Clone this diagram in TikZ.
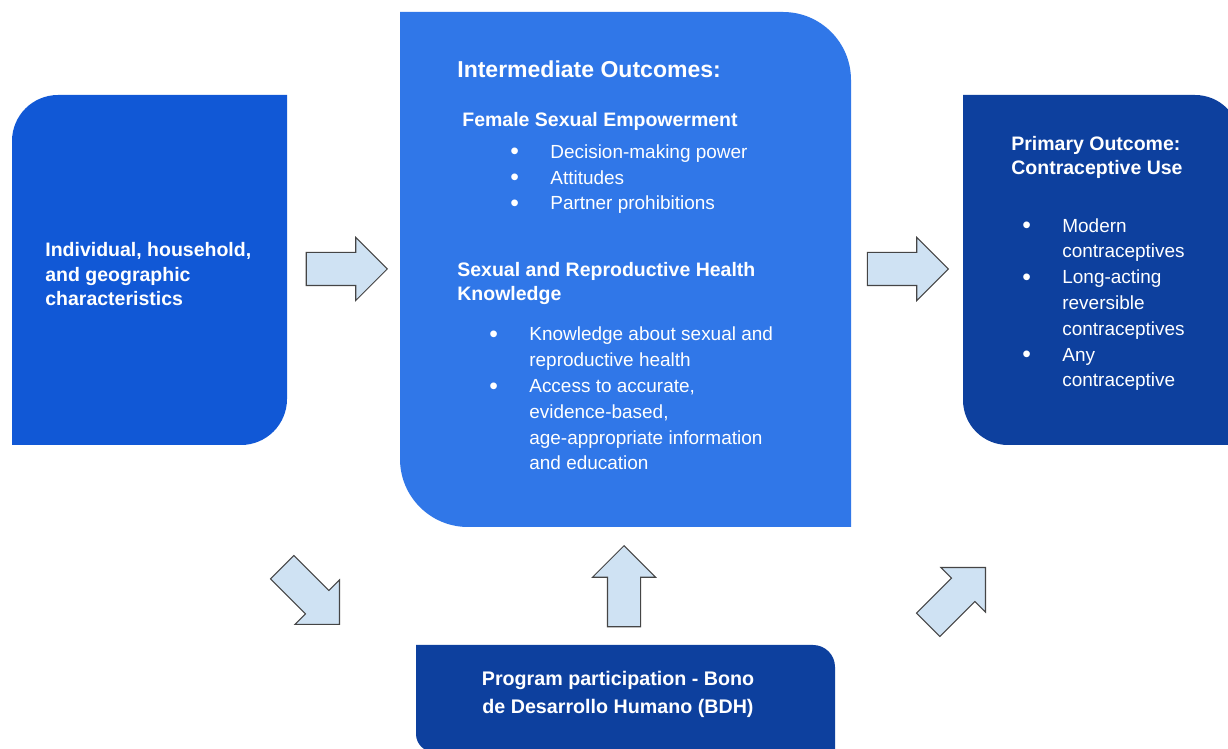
\documentclass[tikz,border=0pt]{standalone}
\usepackage{fontspec}
\setmainfont{Liberation Sans}
\usetikzlibrary{shapes.arrows}

\definecolor{leftblue}{HTML}{1158D6}
\definecolor{midblue}{HTML}{3077E8}
\definecolor{darkblue}{HTML}{0D409E}
\definecolor{arrowfill}{HTML}{CFE2F3}
\definecolor{arrowline}{HTML}{454545}

% bullet in a fixed-width box, and the matching indent for wrapped lines
\newcommand{\itm}{\makebox[0.8cm][l]{\raisebox{-0.08em}{\scalebox{1.3}{\textbullet}}}}
\newcommand{\ind}{\hspace*{0.8cm}}

\begin{document}
\begin{tikzpicture}[x=0.02cm, y=-0.02cm]
% multi-line nodes sit on the baseline of their last line
\tikzset{bodytext/.style={text=white, inner sep=0pt, align=left, anchor=base west,
    font=\fontsize{10.8}{14.7}\selectfont},
  headtext/.style={bodytext, font=\fontsize{11.1}{14.2}\selectfont\bfseries},
  titletext/.style={bodytext, font=\fontsize{13.1}{16}\selectfont\bfseries},
  fatarrow/.style={single arrow, draw=arrowline, fill=arrowfill, line width=0.6pt,
    inner xsep=0pt, inner ysep=0.32cm, minimum height=1.62cm,
    single arrow head extend=0.3cm, anchor=tip}}
\useasboundingbox (0,0) rectangle (1228,749);
\fill[white] (0,0) rectangle (1228,749);
\clip (0,0) rectangle (1228,749);
% boxes
\fill[leftblue] (12,445) -- (12,141) .. controls (12,115.6) and (32.6,95) .. (58,95)
  -- (287,95) -- (287,399) .. controls (287,424.4) and (266.4,445) .. (241,445) -- cycle;
\fill[midblue] (400,12) -- (783,12) .. controls (820.6,12) and (851,42.4) .. (851,80)
  -- (851,527) -- (468,527) .. controls (430.4,527) and (400,496.6) .. (400,459) -- cycle;
\fill[darkblue] (963,95) -- (1195,95) .. controls (1219.9,95) and (1240,115.1) .. (1240,140)
  -- (1240,445) -- (1008,445) .. controls (983.1,445) and (963,424.9) .. (963,400) -- cycle;
\fill[darkblue] (416,645) -- (813,645) .. controls (825.2,645) and (835,654.8) .. (835,667)
  -- (835,752) -- (434,752) .. controls (424.1,752) and (416,743.9) .. (416,734) -- cycle;
% texts
\node[headtext] (charac) at (45,306) {Individual, household,\\and geographic\\characteristics};
\node[titletext] (inter) at (457,78) {Intermediate Outcomes:};
\node[headtext] (empow) at (462,127) {Female Sexual Empowerment};
\node[bodytext] (empowlist) at (510,210) {\itm Decision-making power\\\itm Attitudes\\\itm Partner prohibitions};
\node[headtext] (srh) at (457,301) {Sexual and Reproductive Health\\Knowledge};
\node[bodytext] (srhlist) at (489,470) {\itm Knowledge about sexual and\\\ind reproductive health\\
  \itm Access to accurate,\\\ind evidence-based,\\\ind age-appropriate information\\\ind and education};
\node[headtext] (primary) at (1011,175) {Primary Outcome:\\Contraceptive Use};
\node[bodytext] (uselist) at (1022,387) {\itm Modern\\\ind contraceptives\\\itm Long-acting\\\ind reversible\\
  \ind contraceptives\\\itm Any\\\ind contraceptive};
\node[headtext, align=center, anchor=base, font=\fontsize{11.2}{16}\selectfont\bfseries] (bdh) at (618,714)
  {Program participation - Bono\\de Desarrollo Humano (BDH)};
% block arrows
\node[fatarrow] (a1) at (388,269) {};
\node[fatarrow] (a2) at (949,269) {};
\node[fatarrow, rotate=-45] (a3) at (340,625) {};
\node[fatarrow, rotate=90] (a4) at (624,545) {};
\node[fatarrow, rotate=45] (a5) at (986,567) {};
\end{tikzpicture}
\end{document}
